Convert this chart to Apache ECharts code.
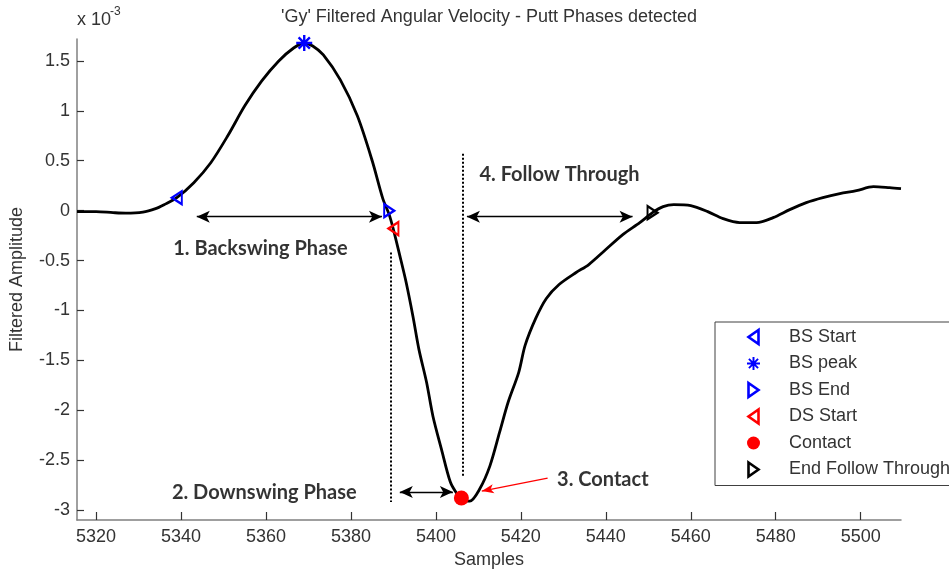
<!DOCTYPE html>
<html>
<head>
<meta charset="utf-8">
<script src="https://cdn.jsdelivr.net/npm/echarts@6/dist/echarts.min.js"></script>
<style>
html,body{margin:0;padding:0;background:#ffffff;}
#chart{width:949px;height:574px;}
</style>
</head>
<body>
<div id="chart"></div>
<script>
// ---------- data (amplitude in units of 10^-3) ----------
const samples = [5315.5, 5320, 5324, 5327, 5331, 5334, 5336, 5339, 5343, 5347, 5351, 5355, 5359, 5363, 5366.5, 5369, 5371,
  5373.5, 5377.5, 5381.5, 5385, 5387.5, 5389, 5390, 5391.5, 5393, 5394.6, 5396, 5397.8, 5399.3, 5401.3, 5403.4, 5405, 5406,
  5407, 5408, 5410.3, 5412.7, 5415, 5417, 5419.5, 5421, 5423.5, 5426, 5429, 5433, 5436, 5440, 5444, 5448, 5451, 5453.5,
  5456, 5460, 5464, 5467.6, 5471.5, 5475.5, 5479.4, 5483.3, 5487.2, 5491.1, 5495.1, 5499, 5503, 5506.8, 5509.5];
const amplitude = [-0.01, -0.01, -0.02, -0.025, -0.015, 0.02, 0.06, 0.13, 0.28, 0.48, 0.75, 1.05, 1.30, 1.50, 1.63, 1.68, 1.65,
  1.56, 1.31, 0.95, 0.50, 0.12, -0.04, -0.19, -0.45, -0.72, -1.06, -1.39, -1.72, -2.06, -2.39, -2.72, -2.84, -2.88,
  -2.91, -2.91, -2.79, -2.56, -2.22, -1.92, -1.62, -1.35, -1.08, -0.88, -0.74, -0.62, -0.54, -0.39, -0.24, -0.12, -0.02, 0.04,
  0.06, 0.05, -0.01, -0.08, -0.12, -0.12, -0.07, 0.01, 0.08, 0.13, 0.17, 0.20, 0.24, 0.23, 0.22];

const xTicks = [5320, 5340, 5360, 5380, 5400, 5420, 5440, 5460, 5480, 5500];
const yTicks = [-3, -2.5, -2, -1.5, -1, -0.5, 0, 0.5, 1, 1.5];

const eventNames = ['BS Start', 'BS peak', 'BS End', 'DS Start', 'Contact', 'End Follow Through'];
const eventSamples = [5339, 5369, 5389, 5390, 5406, 5451];
const eventValues = [0.13, 1.68, 0.0, -0.18, -2.88, -0.02];

const phaseLabels = ['1. Backswing Phase', '2. Downswing Phase', '3. Contact', '4. Follow Through'];

// ---------- annotation geometry (in data coordinates) ----------
const labelAnchors = [[5358.7, -0.38], [5359.6, -2.82], [5439.3, -2.69], [5429.1, 0.36]];
const doubleArrows = [
  [[5343.7, -0.06], [5387.3, -0.06]],
  [[5391.5, -2.82], [5404.0, -2.82]],
  [[5407.3, -0.06], [5446.3, -0.06]]
];
const dottedLines = [
  [[5389.4, -0.42], [5389.4, -2.92]],
  [[5406.4, 0.57], [5406.4, -2.67]]
];
const contactArrow = [[5426.3, -2.68], [5410.8, -2.81]];

// ---------- styles ----------
const SANS = '"Liberation Sans", Arial, sans-serif';
const TXT = '#333333';
const AXIS = '#808080';
const starPath = 'path://M0 8.5L20 8.5L20 11.5L0 11.5Z M8.5 0L11.5 0L11.5 20L8.5 20Z M1.9 4L4 1.9L18.1 16L16 18.1Z M16 1.9L18.1 4L4 18.1L1.9 16Z';
const leftTri = 'path://M10 0L10 14L0 7Z';
const rightTri = 'path://M0 0L10 7L0 14Z';

const eventStyles = [
  {symbol: leftTri, size: [10, 13], fill: 'rgba(0,0,0,0)', stroke: '#0000ff', bw: 2.2},
  {symbol: starPath, size: 16, fill: '#0000ff', stroke: '#0000ff', bw: 0},
  {symbol: rightTri, size: [10, 13], fill: 'rgba(0,0,0,0)', stroke: '#0000ff', bw: 2.2},
  {symbol: leftTri, size: [10, 13], fill: 'rgba(0,0,0,0)', stroke: '#ff0000', bw: 2.2},
  {symbol: 'circle', size: 15, fill: '#ff0000', stroke: '#ff0000', bw: 0},
  {symbol: rightTri, size: [10, 13], fill: 'rgba(0,0,0,0)', stroke: '#000000', bw: 2.2}
];

const curve = samples.map((s, i) => [s, amplitude[i]]);

const markLineData = [];
doubleArrows.forEach(a => {
  markLineData.push([
    {coord: a[0], symbol: 'arrow', symbolSize: [9, 13], lineStyle: {color: '#000', width: 1.3, type: 'solid'}},
    {coord: a[1], symbol: 'arrow', symbolSize: [9, 13]}
  ]);
});
dottedLines.forEach(a => {
  markLineData.push([
    {coord: a[0], symbol: 'none', lineStyle: {color: '#000', width: 2, type: [2, 2]}},
    {coord: a[1], symbol: 'none'}
  ]);
});
markLineData.push([
  {coord: contactArrow[0], symbol: 'none', lineStyle: {color: '#ff0000', width: 1.2, type: 'solid'}},
  {coord: contactArrow[1], symbol: 'arrow', symbolSize: [7, 12]}
]);

const series = [{
  name: 'signal',
  type: 'line',
  data: curve,
  showSymbol: false,
  smooth: 0.3,
  lineStyle: {color: '#000', width: 2.8},
  itemStyle: {color: '#000'},
  silent: true,
  z: 2,
  markLine: {
    silent: true,
    animation: false,
    label: {show: false},
    emphasis: {disabled: true},
    data: markLineData
  }
}];

eventNames.forEach((n, i) => {
  const st = eventStyles[i];
  series.push({
    name: n,
    type: 'scatter',
    data: [[eventSamples[i], eventValues[i]]],
    symbol: st.symbol,
    symbolSize: st.size,
    itemStyle: {color: st.fill, borderColor: st.stroke, borderWidth: st.bw, opacity: 1},
    silent: true,
    z: 5
  });
});

series.push({
  name: 'phaseText',
  type: 'scatter',
  data: labelAnchors.map((p, i) => ({value: p, name: phaseLabels[i]})),
  symbolSize: 1,
  itemStyle: {color: 'rgba(0,0,0,0)'},
  silent: true,
  z: 6,
  label: {
    show: true,
    position: 'inside',
    formatter: p => p.name,
    fontFamily: 'Lato, "Open Sans", sans-serif',
    fontWeight: 'bold',
    fontSize: 20,
    color: '#000000'
  }
});

const legendData = eventNames.map((n, i) => ({
  name: n,
  icon: eventStyles[i].symbol,
  itemStyle: {color: eventStyles[i].fill, borderColor: eventStyles[i].stroke, borderWidth: eventStyles[i].bw ? 2.6 : 0}
}));

const chart = echarts.init(document.getElementById('chart'), null, {renderer: 'canvas'});
chart.setOption({
  animation: false,
  backgroundColor: '#ffffff',
  grid: {left: 77, top: 39, right: 48, bottom: 53, containLabel: false},
  xAxis: {
    type: 'value',
    min: 5315.5,
    max: 5509.5,
    name: 'Samples',
    nameLocation: 'middle',
    nameGap: 31,
    nameTextStyle: {fontFamily: SANS, fontSize: 18, color: TXT},
    axisLine: {show: true, onZero: false, lineStyle: {color: AXIS, width: 1.5}},
    axisTick: {show: true, inside: true, length: 8, customValues: xTicks, lineStyle: {color: '#333', width: 1.2}},
    axisLabel: {show: true, customValues: xTicks, margin: 8, fontFamily: SANS, fontSize: 18, color: TXT,
      formatter: v => String(v)},
    splitLine: {show: false}
  },
  yAxis: {
    type: 'value',
    min: -3.1,
    max: 1.72,
    name: 'Filtered Amplitude',
    nameLocation: 'middle',
    nameGap: 51,
    nameTextStyle: {fontFamily: SANS, fontSize: 18, color: TXT},
    axisLine: {show: true, onZero: false, lineStyle: {color: AXIS, width: 1.5}},
    axisTick: {show: true, inside: true, length: 7, customValues: yTicks, lineStyle: {color: '#333', width: 1.2}},
    axisLabel: {show: true, customValues: yTicks, margin: 7, fontFamily: SANS, fontSize: 18, color: TXT,
      formatter: v => String(v)},
    splitLine: {show: false}
  },
  legend: {
    data: legendData,
    orient: 'vertical',
    left: 715,
    top: 322,
    padding: [5, 20, 6, 32],
    itemWidth: 13,
    itemHeight: 14,
    itemGap: 6.5,
    borderColor: '#404040',
    borderWidth: 1,
    backgroundColor: '#ffffff',
    selectedMode: false,
    textStyle: {fontFamily: SANS, fontSize: 18, color: TXT, lineHeight: 20, padding: [0, 0, 0, 24]}
  },
  graphic: [
    {type: 'text', x: 489, y: 17, silent: true,
      style: {text: "'Gy' Filtered Angular Velocity - Putt Phases detected", align: 'center', verticalAlign: 'middle',
        font: '18px ' + SANS, fill: TXT}},
    {type: 'text', x: 77, y: 20, silent: true,
      style: {text: 'x 10', align: 'left', verticalAlign: 'middle', font: '18px ' + SANS, fill: TXT}},
    {type: 'text', x: 110, y: 12, silent: true,
      style: {text: '-3', align: 'left', verticalAlign: 'middle', font: '12px ' + SANS, fill: TXT}}
  ],
  series: series
});
</script>
</body>
</html>
